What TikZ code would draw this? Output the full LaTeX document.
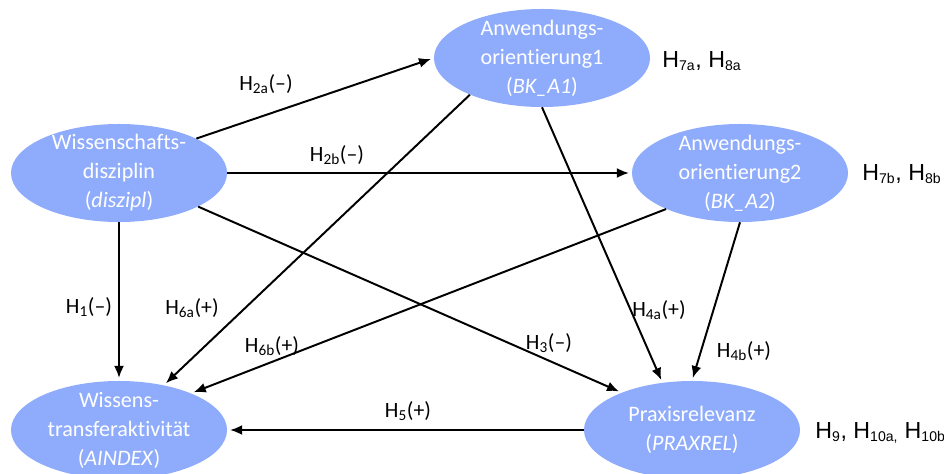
\documentclass[tikz,border=0pt]{standalone}
\usepackage{fontspec}
\setmainfont{Carlito}[Ligatures={TeX,NoCommon}]
\newfontfamily\arialfont{Liberation Sans}
\usepackage{tikz}
\usetikzlibrary{shapes.geometric,arrows.meta}
\definecolor{blobblue}{RGB}{143,172,252}
\newcommand{\nsub}[1]{\textsubscript{\fontsize{10}{10}\selectfont #1}}
\tikzset{var/.style={ellipse, fill=blobblue, text=white, align=center,
    minimum width=5.4cm, minimum height=2.45cm, inner xsep=-0.1cm, inner ysep=-0.25cm,
    font=\fontsize{15.7}{20.6}\selectfont}}
\tikzset{hyp/.style={font=\fontsize{15.5}{18}\selectfont, inner sep=1pt}}
\tikzset{note/.style={anchor=base west, inner sep=0pt, font=\arialfont\fontsize{16.5}{19}\selectfont}}

\begin{document}
\begin{tikzpicture}[x=0.025cm, y=-0.025cm, >={Latex[length=3mm,width=2.5mm]}]
    \useasboundingbox (0,0) rectangle (944,473);
    \node [var] (dis) at (119,173) {Wissenschafts-\\disziplin\\(\textit{diszipl})};
    \node [var] (A1) at (542,58) {Anwendungs-\\orientierung1\\(\textit{BK\_A1})};
    \node [var] (A2) at (740,173) {Anwendungs-\\orientierung2\\(\textit{BK\_A2})};
    \node [var] (AIN) at (119,430) {Wissens-\\transferaktivität\\(\textit{AINDEX})};
    \node [var] (PRAX) at (692,430) {Praxisrelevanz\\(\textit{PRAXREL})};
    % paths
    \draw [->, line width=1.4pt, shorten >=2pt] (dis.24) -- (A1.west);
    \draw [->, line width=1.4pt, shorten >=2pt] (dis.east) -- (A2.west);
    \draw [->, line width=1.4pt, shorten >=2pt] (dis.south) -- (AIN.north);
    \draw [->, line width=1.4pt, shorten >=2pt] (dis.-23) -- (PRAX.152);
    \draw [->, line width=1.4pt, shorten >=2pt] (A1.207) -- (AIN.45);
    \draw [->, line width=1.4pt, shorten >=2pt] (A1.south) -- (PRAX.122);
    \draw [->, line width=1.4pt, shorten >=2pt] (A2.206) -- (AIN.27);
    \draw [->, line width=1.4pt, shorten >=2pt] (A2.south) -- (PRAX.north);
    \draw [->, line width=1.4pt, shorten >=2pt] (PRAX.west) -- (AIN.east);
    % hypotheses
    \node [hyp] (h2a) at (266,84) {H\textsubscript{2a}(--)};
    \node [hyp] (h2b) at (337,155) {H\textsubscript{2b}(--)};
    \node [hyp] (h1) at (89,307) {H\textsubscript{1}(--)};
    \node [hyp] (h6a) at (192,308) {H\textsubscript{6a}(+)};
    \node [hyp] (h6b) at (272,346) {H\textsubscript{6b}(+)};
    \node [hyp] (h3) at (549,343) {H\textsubscript{3}(--)};
    \node [hyp] (h4a) at (659,310) {H\textsubscript{4a}(+)};
    \node [hyp] (h4b) at (744,351) {H\textsubscript{4b}(+)};
    \node [hyp] (h5) at (408,411) {H\textsubscript{5}(+)};
    \node [note] (n1) at (662,67) {H\nsub{7a}, H\nsub{8a}};
    \node [note] (n2) at (862,180) {H\nsub{7b}, H\nsub{8b}};
    \node [note] (n3) at (815,438) {H\nsub{9}, H\nsub{10a,} H\nsub{10b}};
  \end{tikzpicture}
\end{document}
